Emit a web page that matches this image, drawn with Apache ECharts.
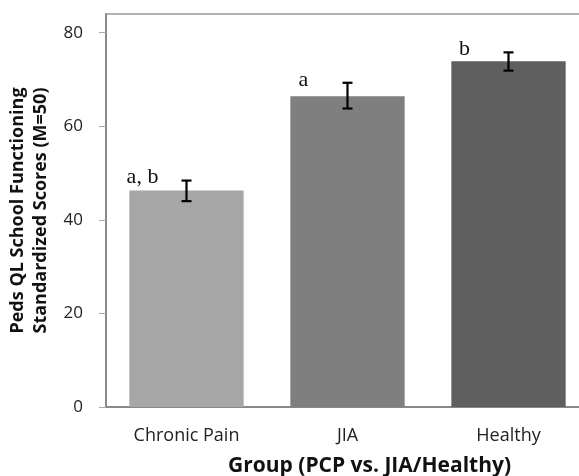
<!DOCTYPE html>
<html>
<head>
<meta charset="utf-8">
<script src="https://cdn.jsdelivr.net/npm/echarts@6/dist/echarts.min.js"></script>
<style>
  html, body { margin: 0; padding: 0; background: #fff; }
  #chart { width: 579px; height: 476px; }
</style>
</head>
<body>
<div id="chart"></div>
<script>
// groups and mean scores
const groups = ['Chronic Pain', 'JIA', 'Healthy'];
const means = [46.3, 66.4, 73.9];
const errLow = [44.0, 63.8, 71.9];
const errHigh = [48.4, 69.3, 75.8];
const sigLetters = ['a, b', 'a', 'b'];
const yTicks = [0, 20, 40, 60, 80];

const barColors = ['#a6a6a6', '#7f7f7f', '#5f5f5f'];

const chartDom = document.getElementById('chart');
const myChart = echarts.init(chartDom);

const option = {
  animation: false,
  grid: {
    left: 106,
    right: -10,
    top: 14,
    bottom: 69,
    outerBoundsMode: 'none',
    show: true,
    borderColor: '#b3b3b3',
    borderWidth: 2
  },
  xAxis: {
    type: 'category',
    data: groups,
    axisLine: { lineStyle: { color: '#888', width: 2 } },
    axisTick: { show: false },
    axisLabel: {
      color: '#222',
      fontFamily: 'Open Sans',
      fontSize: 18,
      margin: 20
    },
    name: 'Group (PCP vs. JIA/Healthy)',
    nameLocation: 'middle',
    nameGap: 49,
    nameTextStyle: {
      color: '#111',
      fontFamily: 'Open Sans',
      fontWeight: 'bold',
      fontSize: 21,
      padding: [0, 0, 0, 44]
    }
  },
  yAxis: {
    type: 'value',
    min: 0,
    max: 84,
    axisLine: { show: true, lineStyle: { color: '#888', width: 2 } },
    axisTick: {
      show: true,
      length: 7,
      customValues: yTicks,
      lineStyle: { color: '#aaa' }
    },
    axisLabel: {
      customValues: yTicks,
      color: '#222',
      fontFamily: 'Open Sans',
      fontSize: 17,
      margin: 23
    },
    splitLine: { show: false },
    name: 'Peds QL School Functioning\nStandardized Scores (M=50)',
    nameLocation: 'middle',
    nameGap: 46,
    nameTextStyle: {
      color: '#111',
      fontFamily: 'Open Sans',
      fontWeight: 'bold',
      fontSize: 18,
      lineHeight: 23
    }
  },
  series: [
    {
      type: 'bar',
      barWidth: '71%',
      data: means.map((v, i) => ({ value: v, itemStyle: { color: barColors[i] } }))
    },
    {
      type: 'custom',
      data: groups.map((g, i) => [i, errLow[i], errHigh[i]]),
      renderItem: (params, api) => {
        const i = api.value(0);
        const lo = api.coord([i, api.value(1)]);
        const hi = api.coord([i, api.value(2)]);
        const cap = 5;
        const style = { stroke: '#000', lineWidth: 2.2 };
        return {
          type: 'group',
          children: [
            { type: 'line', shape: { x1: hi[0], y1: hi[1], x2: lo[0], y2: lo[1] }, style },
            { type: 'line', shape: { x1: hi[0] - cap, y1: hi[1], x2: hi[0] + cap, y2: hi[1] }, style },
            { type: 'line', shape: { x1: lo[0] - cap, y1: lo[1], x2: lo[0] + cap, y2: lo[1] }, style },
            {
              type: 'text',
              x: hi[0] - 44,
              y: hi[1] + 8,
              style: {
                text: sigLetters[params.dataIndex],
                fill: '#111',
                font: '22px "Liberation Serif"',
                textAlign: 'center',
                textVerticalAlign: 'bottom'
              }
            }
          ]
        };
      },
      z: 5
    }
  ]
};

myChart.setOption(option);
</script>
</body>
</html>
